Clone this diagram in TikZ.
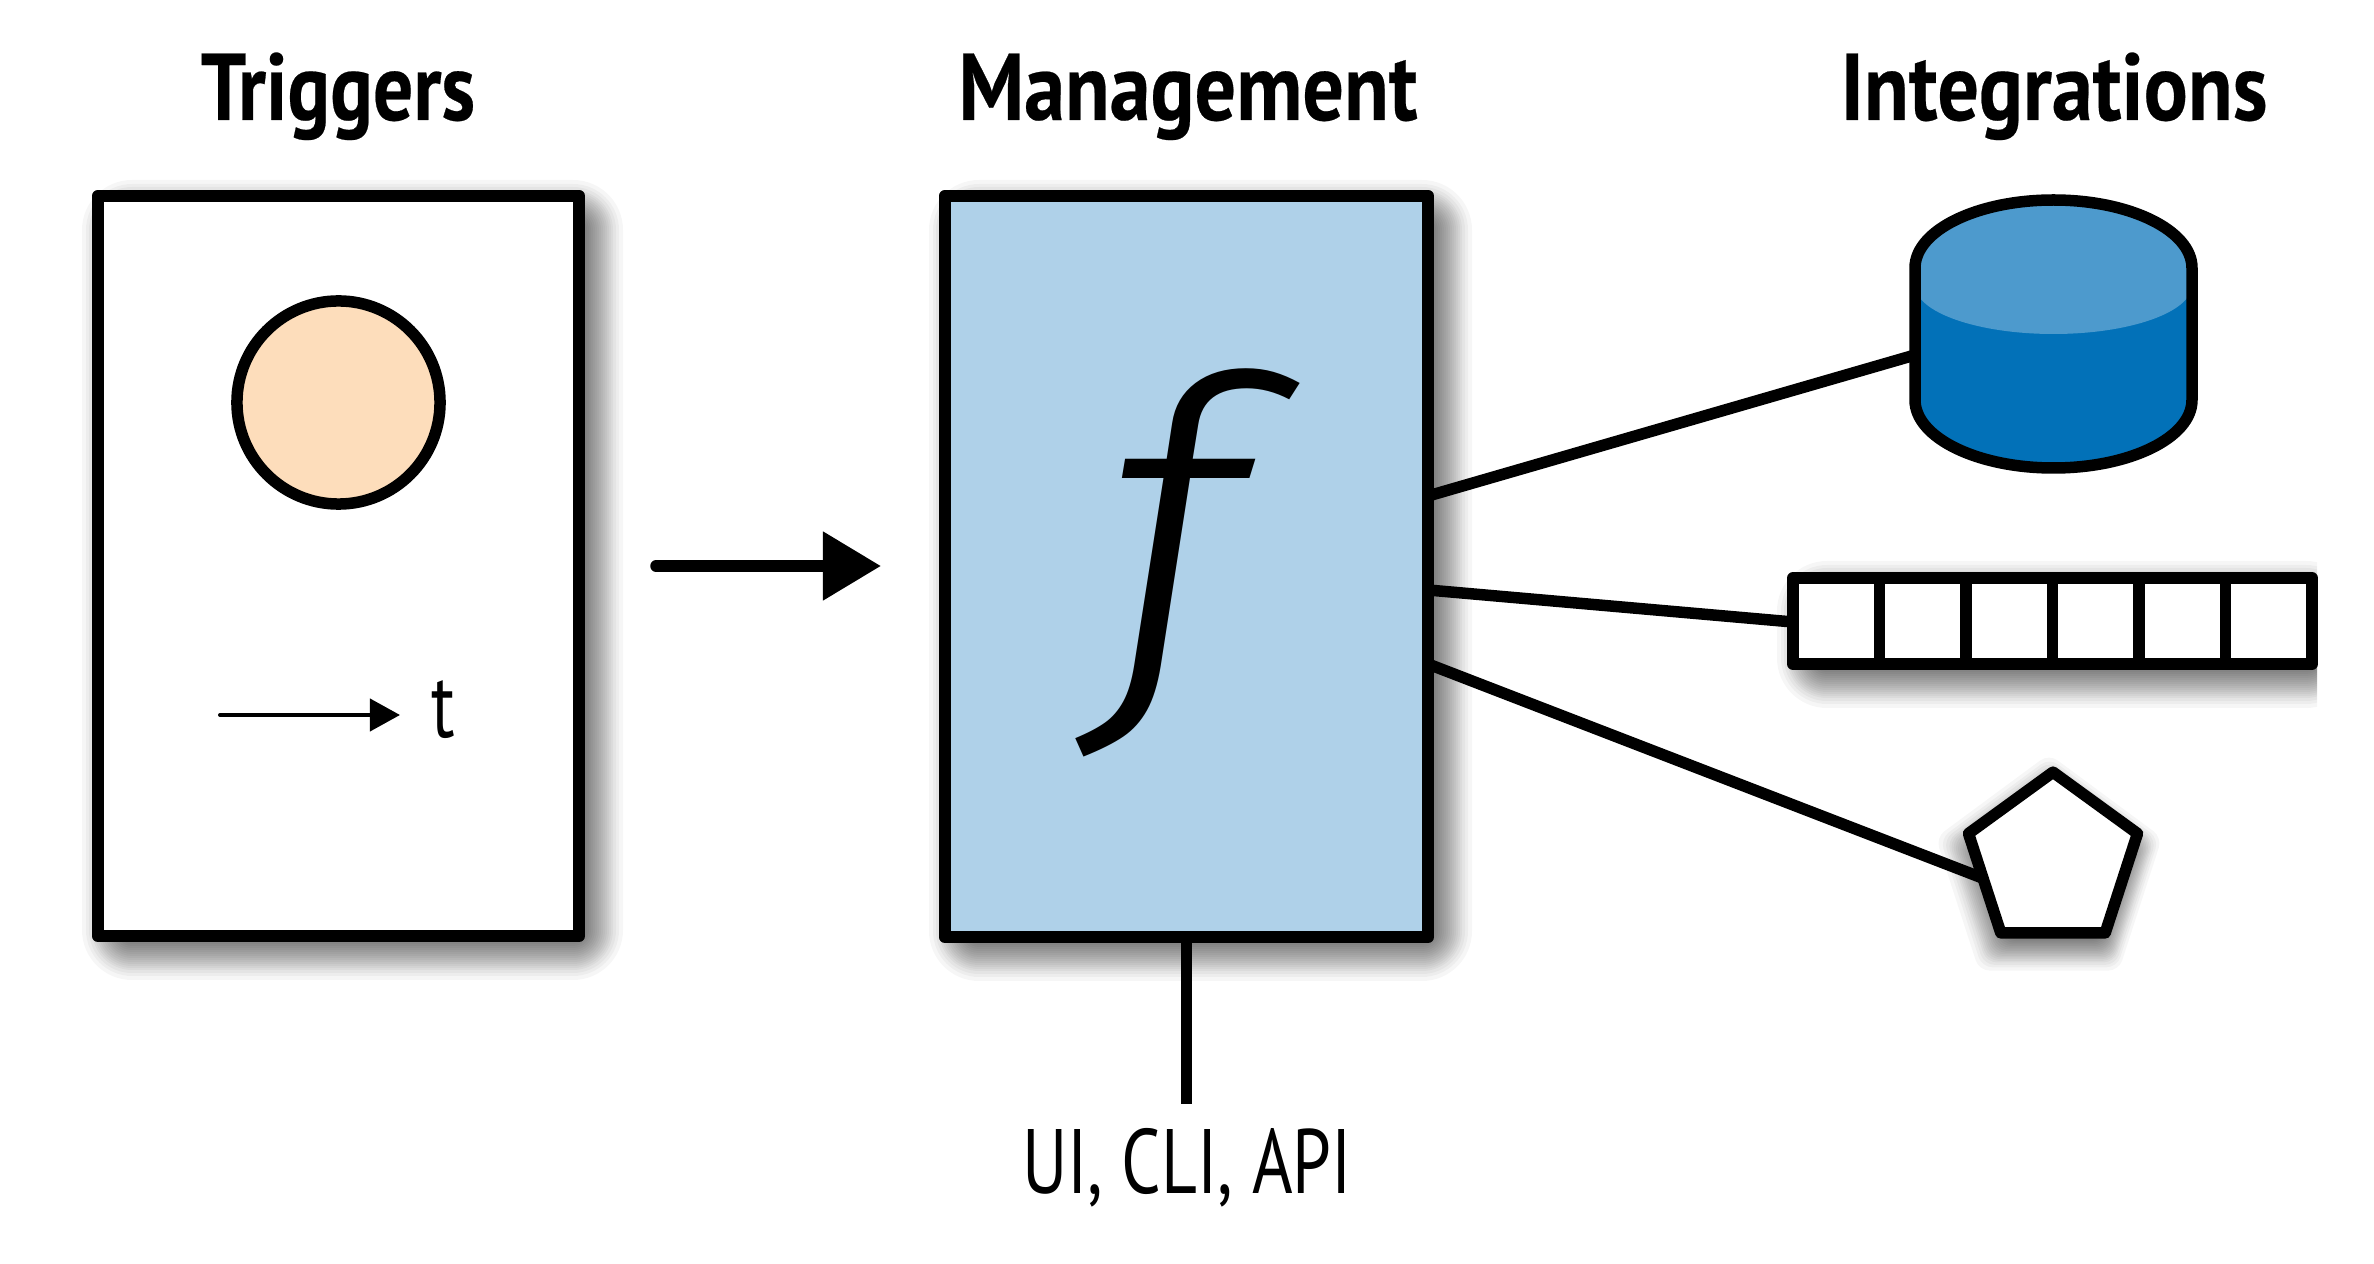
\documentclass[tikz,border=0pt]{standalone}
\usepackage{fontspec}
\usepackage{graphicx}
\usetikzlibrary{arrows.meta,shapes.geometric}
\setmainfont{PT Sans}
\newfontfamily\titlefont[FakeStretch=0.84,FakeBold=0.25]{PT Sans Bold}
\newfontfamily\labelfont[FakeStretch=0.76]{PT Sans}
\newfontfamily\funcfont{Fira Sans Light Italic}
\definecolor{mgmtblue}{HTML}{AFD1E9}
\definecolor{peach}{HTML}{FDDDBB}
\definecolor{dblight}{HTML}{4D9ACD}
\definecolor{dbdark}{HTML}{0271B8}
\tikzset{
  ink/.style={line width=0.115cm,draw=black,line join=round},
  panel/.style={ink,rectangle,inner sep=0pt},
  cellbox/.style={ink,rectangle,fill=white,inner sep=0pt,minimum width=0.865cm,minimum height=0.86cm},
  wire/.style={line width=0.115cm,draw=black},
  shadowlayer/.style={fill=black,fill opacity=0.035},
  title/.style={inner sep=0pt,anchor=base,font=\titlefont\fontsize{27}{32}\selectfont},
  label/.style={inner sep=0pt,anchor=base,font=\labelfont\fontsize{26}{31}\selectfont}
}
\newcommand{\shadowlist}{30,26,23,20,18,16,14,12,10,8,6,4,2,0,-2,-4,-6,-8,-10,-12,-14}
\newcommand{\boxshadow}[4]{%
  \foreach \e in \shadowlist{%
    \pgfmathsetmacro{\rr}{max(\e+20,1)*0.01}%
    \fill[shadowlayer,rounded corners=\rr cm]
      ({#1+14-\e},{#2+14-\e}) rectangle ({#3+14+\e},{#4+14+\e});
  }%
}
\begin{document}
\begin{tikzpicture}[x=0.01cm,y=-0.01cm]
\useasboundingbox (0,0) rectangle (2374,1264);
\fill[white] (0,0) rectangle (2374,1264);

% shadows
\boxshadow{98}{196}{579}{936}
\boxshadow{945}{196}{1428}{937}
\begin{scope}
  \clip (0,0) rectangle (2317,1264);
  \boxshadow{1793}{577}{2312}{664}
\end{scope}
\foreach \e in \shadowlist{%
  \pgfmathsetmacro{\sc}{(89+\e)/89}%
  \fill[shadowlayer,shift={(2065,873)},scale=\sc,rounded corners=3pt]
    (-12,-89) -- (72.6,-26.5) -- (40.3,73) -- (-64.3,73) -- (-96.6,-26.5) -- cycle;
}

% ports
\coordinate (mp1) at (1428,496);
\coordinate (mp2) at (1428,590);
\coordinate (mp3) at (1428,664);
\coordinate (dbport) at (1915,355);
\coordinate (qport) at (1793,622);
\coordinate (penport) at (1985,879);
\coordinate (uiport) at (1186.5,1104);
\coordinate (a1) at (656,566);
\coordinate (a2) at (881,566);
\coordinate (t1) at (220,715);
\coordinate (t2) at (400,715);

% connectors
\draw[wire] (mp1) -- (dbport);
\draw[wire] (mp2) -- (qport);
\draw[wire] (mp3) -- (penport);

% panels
\node[panel,fill=white,minimum width=4.81cm,minimum height=7.40cm] (trig) at (338.5,566) {};
\node[panel,fill=mgmtblue,minimum width=4.83cm,minimum height=7.41cm] (mgmt) at (1186.5,566.5) {};
\draw[wire] (mgmt.south) -- (uiport);

% trigger contents
\node[ink,circle,fill=peach,inner sep=0pt,minimum size=2.03cm] (event) at (338.5,402.5) {};
\draw[line width=0.04cm,line cap=round,-{Triangle[length=3.0mm,width=3.2mm]}] (t1) -- (t2);
\node[label] (tlab) at (443,738) {t};

% arrow
\draw[line width=0.115cm,line cap=round,-{Triangle[length=5.8mm,width=6.6mm]}] (a1) -- (a2);

% f
\node[inner sep=0pt] (func) at (1172,563) {\scalebox{1.3}[1.165]{\funcfont\fontsize{100}{120}\selectfont f}};

% database
\coordinate (db) at (2053.5,333);
\fill[dbdark] (1915,268) arc[start angle=180,end angle=360,x radius=138.5,y radius=68]
  -- (2192,400) arc[start angle=0,end angle=180,x radius=138.5,y radius=68] -- cycle;
\fill[dblight] (1915,268) arc[start angle=180,end angle=360,x radius=138.5,y radius=68]
  -- (2192,285) arc[start angle=0,end angle=180,x radius=138.5,y radius=49] -- cycle;
\draw[ink] (1915,268) arc[start angle=180,end angle=360,x radius=138.5,y radius=68]
  -- (2192,400) arc[start angle=0,end angle=180,x radius=138.5,y radius=68] -- cycle;

% queue
\foreach \i in {1,...,6}{%
  \node[cellbox] (q\i) at ({1793+(\i-0.5)*86.5},621) {};
}

% pentagon
\node[ink,regular polygon,regular polygon sides=5,fill=white,inner sep=0pt,minimum size=1.776cm] (pent) at (2053,861) {};

% texts
\node[title] (t-trig) at (338,120) {Triggers};
\node[title] (t-mgmt) at (1188,120) {\scalebox{1.03}[1]{Management}};
\node[title] (t-intg) at (2054,120) {\scalebox{1.033}[1]{Integrations}};
\node[label] (t-ui) at (1187,1194) {UI, CLI, API};
\end{tikzpicture}
\end{document}
